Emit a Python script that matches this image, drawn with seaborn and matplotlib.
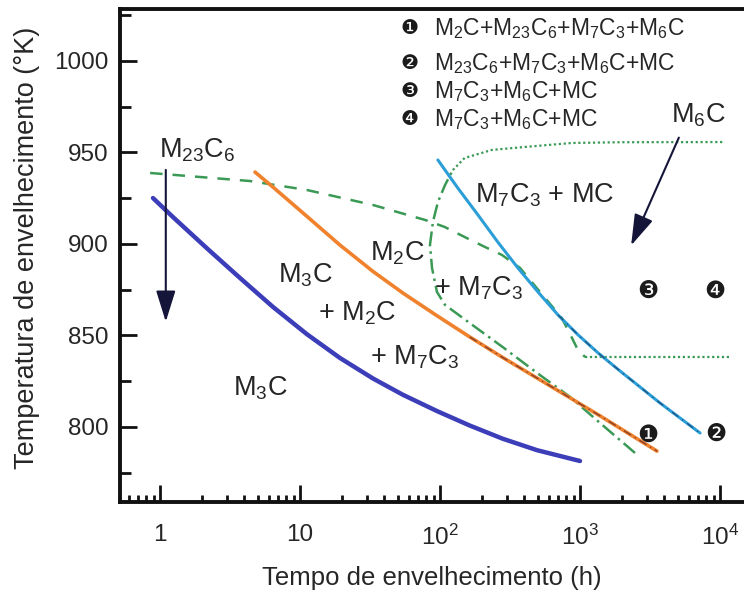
import numpy as np
import pandas as pd
import matplotlib
matplotlib.use("Agg")
import matplotlib.pyplot as plt
from matplotlib.ticker import FixedLocator, FixedFormatter, LogLocator, MultipleLocator
import seaborn as sns

# ---- boundary curves: aging time (h) vs aging temperature (K) ----
m3c_t = [0.891, 1.238, 2.166, 3.73, 6.41, 11.2, 19.3, 33.2, 54.3, 95.1, 163, 280, 494, 1000]
m3c_T = [925.1, 914.7, 897.6, 881.4, 865.6, 850.7, 837.7, 826.5, 817.6, 808.7, 800.8, 793.6, 787.3, 781.4]

m2c_t = [4.77, 6.41, 11.2, 19.3, 33.2, 54.3, 95.1, 163, 280, 494, 850, 1389, 3548]
m2c_T = [939.3, 931.1, 915.1, 899.4, 885.0, 873.2, 860.8, 849.2, 838.0, 826.7, 815.9, 806.1, 786.8]

mc_t = [96.6, 134, 187, 259, 361, 502, 697, 970, 1349, 1931, 3728, 7200]
mc_T = [945.9, 930.6, 915.8, 901.0, 886.8, 873.7, 861.2, 850.3, 840.4, 830.6, 813.1, 796.7]

m23_t = [0.85, 4.39, 11.2, 33.2, 78.4, 108, 150, 209, 277, 373, 519, 741, 877, 966, 1089]
m23_T = [938.8, 934.4, 929.5, 921.3, 913.1, 909.3, 903.8, 898.4, 894.0, 886.9, 873.7, 859.6, 848.6, 842.1, 838.2]

m6c_low_t = [1089, 11790]
m6c_low_T = [838.2, 838.2]

m7c3_t = [2471, 1389, 850, 494, 280, 163, 108.6, 95.1, 87.7, 84.8, 89, 96.6, 108.6, 123.5]
m7c3_T = [785.8, 802.2, 816.4, 829.5, 843.7, 856.8, 866.7, 873.8, 886.9, 899.5, 912.0, 922.9, 932.2, 940.4]

m6c_t = [123.5, 150, 235, 402, 877, 2000, 10860]
m6c_T = [940.4, 947.0, 951.4, 953.0, 955.2, 955.6, 955.7]

# ---- tick values ----
x_ticks = [1, 10, 100, 1000, 10000]
x_tick_labels = ["1", "10", r"10$^2$", r"10$^3$", r"10$^4$"]
y_ticks = [800, 850, 900, 950, 1000]

# ---- phase field annotations ----
field_labels = [r"M$_{23}$C$_6$", r"M$_3$C", r"+ M$_2$C", r"+ M$_7$C$_3$", r"M$_3$C",
                r"M$_2$C", r"+ M$_7$C$_3$", r"M$_7$C$_3$ + MC", r"M$_6$C"]
field_t = [1.84, 10.9, 25.5, 66.3, 5.18, 49.3, 190, 562, 6970]
field_T = [951.4, 883.1, 862.3, 838.2, 821.3, 895.1, 876.0, 926.8, 970.5]

point_marks = ["\u2776", "\u2777", "\u2778", "\u2779"]
point_t = [3060, 9400, 3060, 9200]
point_T = [795.6, 796.2, 874.3, 874.3]

key_lines = [r"M$_2$C+M$_{23}$C$_6$+M$_7$C$_3$+M$_6$C",
             r"M$_{23}$C$_6$+M$_7$C$_3$+M$_6$C+MC",
             r"M$_7$C$_3$+M$_6$C+MC",
             r"M$_7$C$_3$+M$_6$C+MC"]

sns.set_theme(style="ticks")
plt.rcParams["font.family"] = ["Liberation Sans", "DejaVu Sans"]
plt.rcParams["mathtext.fontset"] = "custom"
plt.rcParams["mathtext.rm"] = "Liberation Sans"
plt.rcParams["mathtext.it"] = "Liberation Sans"
plt.rcParams["mathtext.default"] = "rm"

fig = plt.figure(figsize=(7.44, 6.01), dpi=100)
ax = fig.add_axes([120 / 744, 1 - 502 / 601, 624 / 744, 493 / 601])

ink = "#1b1b1b"
text_col = "#262626"
green = "#3a9a55"


def curve(t, T, **kw):
    df = pd.DataFrame({"t": t, "T": T})
    sns.lineplot(data=df, x="t", y="T", ax=ax, sort=False, estimator=None, **kw)


curve(m23_t, m23_T, color=green, lw=1.8, linestyle=(0, (5, 4)))
curve(m6c_low_t, m6c_low_T, color=green, lw=1.6, linestyle=(0, (1, 1.2)))
curve(m7c3_t, m7c3_T, color=green, lw=1.8, linestyle=(0, (6, 2, 1, 2)))
curve(m6c_t, m6c_T, color=green, lw=1.6, linestyle=(0, (1, 1.2)))
curve(m3c_t, m3c_T, color="#3c3db8", lw=3.2)
curve(m2c_t, m2c_T, color="#f0822e", lw=2.6)
curve(m2c_t[7:], m2c_T[7:], color="#8a3f2a", lw=1.0, linestyle=(0, (6, 3, 1, 3)))
curve(mc_t, mc_T, color="#2b9ed8", lw=2.2)
curve(mc_t[6:], mc_T[6:], color="#1f4f7a", lw=0.9, linestyle=(0, (6, 4, 1, 4)))

ax.set_xscale("log")
ax.set_xlim(0.518, 14840)
ax.set_ylim(759, 1028.4)

# arrows
arrow_kw = dict(arrowstyle="-|>,head_length=1.6,head_width=0.5", color="#15153a", lw=1.5)
ax.annotate("", xy=(1.10, 856.0), xytext=(1.10, 942.0), arrowprops=arrow_kw)
ax.annotate("", xy=(2276, 897.8), xytext=(5178, 959.5), arrowprops=arrow_kw)

for s, t, T in zip(field_labels, field_t, field_T):
    ax.text(t, T, s, fontsize=19.5, color=text_col, ha="center", va="center")

for s, t, T in zip(point_marks, point_t, point_T):
    ax.text(t, T, s, fontsize=17, color=ink, ha="center", va="center",
            family=["DejaVu Sans"])

key_y = [0.961, 0.890, 0.833, 0.775]
for i, (s, yy) in enumerate(zip(key_lines, key_y)):
    ax.text(0.464, yy, point_marks[i], transform=ax.transAxes, fontsize=14.5,
            color=ink, ha="center", va="center", family=["DejaVu Sans"])
    ax.text(0.503, yy, s, transform=ax.transAxes, fontsize=16.5,
            color=text_col, ha="left", va="center")

# axes styling
for side in ["left", "top", "bottom"]:
    ax.spines[side].set_linewidth(2.8)
    ax.spines[side].set_color("#111111")
ax.spines["right"].set_visible(False)

ax.xaxis.set_major_locator(FixedLocator(x_ticks))
ax.xaxis.set_major_formatter(FixedFormatter(x_tick_labels))
ax.xaxis.set_minor_locator(LogLocator(base=10, subs=np.arange(2, 10), numticks=20))
ax.yaxis.set_major_locator(FixedLocator(y_ticks))
ax.yaxis.set_minor_locator(MultipleLocator(25))

ax.tick_params(axis="both", which="both", direction="in", color="#111111", width=2.0)
ax.tick_params(axis="x", which="major", length=12, labelsize=17.5, pad=16,
               labelcolor=text_col)
ax.tick_params(axis="x", which="minor", length=5)
ax.tick_params(axis="y", which="major", length=12, labelsize=17.5, pad=8,
               labelcolor=text_col)
ax.tick_params(axis="y", which="minor", length=8)
ax.tick_params(top=False, right=False, which="both")

ax.set_xlabel("Tempo de envelhecimento (h)", fontsize=18.5, labelpad=12, color=text_col)
ax.set_ylabel("Temperatura de envelhecimento (°K)", fontsize=19.5, color=text_col)
ax.yaxis.set_label_coords(-0.128, 0.516)

fig.savefig("out.png", dpi=100)
